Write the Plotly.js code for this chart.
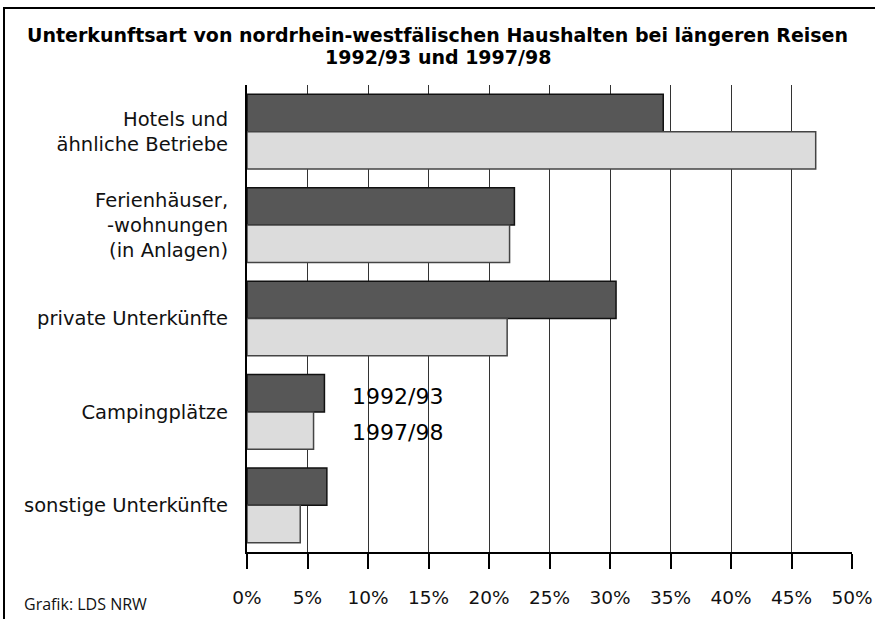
<!DOCTYPE html>
<html><head><meta charset="utf-8">
<script src="https://cdn.plot.ly/plotly-3.0.1.min.js"></script>
<style>
html,body{margin:0;padding:0;background:#fff;}
#wrap{position:relative;width:875px;height:619px;overflow:hidden;}
#chart{position:absolute;left:0;top:0;width:875px;height:619px;}
#frame{position:absolute;left:3px;top:7px;width:900px;height:700px;border-left:2px solid #000;border-top:2px solid #000;pointer-events:none;}
</style></head>
<body>
<div id="wrap"><div id="chart"></div><div id="frame"></div></div>
<script>
const titleLine1 = "Unterkunftsart von nordrhein-westfälischen Haushalten bei längeren Reisen";
const titleLine2 = "1992/93 und 1997/98";
const categories = ["Hotels und<br>ähnliche Betriebe", "Ferienhäuser,<br>-wohnungen<br>(in Anlagen)", "private Unterkünfte", "Campingplätze", "sonstige Unterkünfte"];
const series1Name = "1992/93";
const series2Name = "1997/98";
const values1992 = [34.4, 22.1, 30.5, 6.4, 6.6];
const values1997 = [47.0, 21.7, 21.5, 5.5, 4.4];
const tickVals = [0, 5, 10, 15, 20, 25, 30, 35, 40, 45, 50];
const tickLabels = ["0%", "5%", "10%", "15%", "20%", "25%", "30%", "35%", "40%", "45%", "50%"];
const sourceNote = "Grafik: LDS NRW";

const tickFont = {family: "DejaVu Sans, Open Sans, sans-serif", size: 18.5, color: "#111"};
const catFont = {family: "DejaVu Sans, Open Sans, sans-serif", size: 19.5, color: "#111"};

const traces = [
  {type: "bar", orientation: "h", name: series1Name, y: categories, x: values1992,
   marker: {color: "#575757", line: {color: "#111", width: 1.5}}, hoverinfo: "x"},
  {type: "bar", orientation: "h", name: series2Name, y: categories, x: values1997,
   marker: {color: "#dcdcdc", line: {color: "#444", width: 1.5}}, hoverinfo: "x"}
];

const titleFont = {family: "DejaVu Sans, Liberation Sans, sans-serif", size: 19, color: "#000", weight: "bold"};

const layout = {
  width: 875, height: 619,
  margin: {l: 247, r: 23, t: 85, b: 67},
  paper_bgcolor: "#fff", plot_bgcolor: "#fff",
  showlegend: false,
  barmode: "group", bargap: 0.2, bargroupgap: 0,
  title: {text: "<b>" + titleLine1 + "</b>", x: 0.5, xref: "container", xanchor: "center",
          yref: "container", y: 1 - 35 / 619, yanchor: "middle", font: titleFont},
  xaxis: {range: [0, 50], tickvals: tickVals, ticktext: tickLabels,
          showgrid: true, gridcolor: "#333", gridwidth: 1,
          showline: true, linecolor: "#000", linewidth: 2,
          ticks: "outside", ticklen: 15, tickwidth: 2, tickcolor: "#000",
          ticklabelstandoff: 13, tickfont: tickFont, zeroline: false, fixedrange: true},
  yaxis: {autorange: "reversed", showline: true, linecolor: "#000", linewidth: 2,
          showgrid: false, ticks: "", ticklabelstandoff: 13, tickfont: catFont, fixedrange: true},
  annotations: [
    {text: "<b>" + titleLine2 + "</b>", xref: "paper", yref: "paper", x: (437.5 - 247) / 605, y: (552 - 57) / 467,
     xanchor: "center", yanchor: "middle", showarrow: false, font: titleFont},
    {text: series1Name, xref: "x", yref: "y", x: 12.4, y: 3, yshift: 15, showarrow: false,
     font: {family: "DejaVu Sans, Open Sans, sans-serif", size: 22, color: "#000"}},
    {text: series2Name, xref: "x", yref: "y", x: 12.4, y: 3, yshift: -21, showarrow: false,
     font: {family: "DejaVu Sans, Open Sans, sans-serif", size: 22, color: "#000"}},
    {text: sourceNote, xref: "paper", yref: "paper", x: (22 - 247) / 605, y: (552 - 604) / 467, xanchor: "left", yanchor: "middle",
     showarrow: false, font: {family: "Liberation Sans Narrow, Open Sans, sans-serif", size: 16, color: "#111"}}
  ]
};

Plotly.newPlot("chart", traces, layout, {displayModeBar: false, staticPlot: true});
</script>
</body></html>
